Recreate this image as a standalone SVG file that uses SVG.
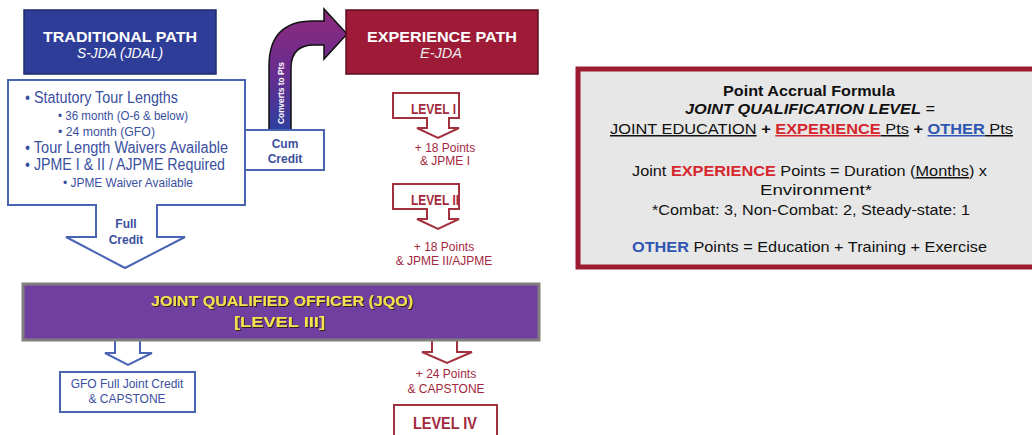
<svg xmlns="http://www.w3.org/2000/svg" width="1032" height="435" viewBox="0 0 1032 435">
<style>
text{font-family:"Liberation Sans",Arial,sans-serif}
.w{fill:#ffffff}
.bl{fill:#3A4FA0}
.rd{fill:#A3283D}
.bs{fill:#ffffff;stroke:#4A64B4;stroke-width:2}
.rs{fill:#ffffff;stroke:#A3313F;stroke-width:2}
.b{font-weight:bold}
.i{font-style:italic}
.m{text-anchor:middle}
.f{fill:#111111;font-size:15px}
</style>
<defs>
<linearGradient id="g" x1="0" y1="0" x2="0" y2="1">
<stop offset="0" stop-color="#8E2A7D"/>
<stop offset="0.55" stop-color="#662D8F"/>
<stop offset="1" stop-color="#2D3F9E"/>
</linearGradient>
<filter id="sh" x="-5%" y="-20%" width="110%" height="140%">
<feDropShadow dx="1" dy="1" stdDeviation="0.4" flood-color="#2a1a10" flood-opacity="0.9"/>
</filter>
</defs>

<g id="connectors">
<path d="M269,130 L269,66 Q269,21 313,21 L324,21 L324,9 L347,34 L324,59 L324,45 L314,45 Q291,45 291,68 L291,130 Z" fill="url(#g)" stroke="#111" stroke-width="1.5"/>
<text class="w b m" font-size="9.5" transform="translate(283.5,93) rotate(-90)" textLength="62" lengthAdjust="spacingAndGlyphs">Converts to Pts</text>
<path class="bs" d="M115,341 V353 H105 L128,365 L152,353 H140 V341"/>
<path class="rs" d="M432,341 V352 H422 L447,363 L472,352 H457 V341"/>
</g>

<g id="traditional-path">
<rect x="24" y="10" width="192" height="64" fill="#2E3D98" stroke="#1D2A6B" stroke-width="1.5"/>
<text class="w b" x="43" y="42" font-size="15" textLength="154" lengthAdjust="spacingAndGlyphs">TRADITIONAL PATH</text>
<text class="w i" x="77" y="58" font-size="14" textLength="86" lengthAdjust="spacingAndGlyphs">S-JDA (JDAL)</text>
</g>

<g id="traditional-details">
<path class="bs" d="M8,80 H245 V205 H157 V237 H185 L125,268 L66,237 H96 V205 H8 Z"/>
<text class="bl" x="25" y="103" font-size="16" textLength="153" lengthAdjust="spacingAndGlyphs">• Statutory Tour Lengths</text>
<text class="bl" x="58" y="120" font-size="12.5" textLength="130" lengthAdjust="spacingAndGlyphs">• 36 month (O-6 &amp; below)</text>
<text class="bl" x="58" y="136" font-size="12.5" textLength="97" lengthAdjust="spacingAndGlyphs">• 24 month (GFO)</text>
<text class="bl" x="25" y="153" font-size="16" textLength="203" lengthAdjust="spacingAndGlyphs">• Tour Length Waivers Available</text>
<text class="bl" x="25" y="170" font-size="16" textLength="200" lengthAdjust="spacingAndGlyphs">• JPME I &amp; II / AJPME Required</text>
<text class="bl" x="63" y="187" font-size="12.5" textLength="130" lengthAdjust="spacingAndGlyphs">• JPME Waiver Available</text>
<text class="bl b m" x="126" y="228" font-size="12">Full</text>
<text class="bl b m" x="126" y="244" font-size="12">Credit</text>
</g>

<g id="cum-credit">
<rect class="bs" x="245" y="130" width="79" height="40"/>
<text class="bl b m" x="285" y="148" font-size="12">Cum</text>
<text class="bl b m" x="285" y="163" font-size="12">Credit</text>
</g>

<g id="experience-path">
<rect x="346" y="10" width="192" height="64" fill="#9E1B38" stroke="#5A0F1F" stroke-width="1.5"/>
<text class="w b" x="367" y="42" font-size="15.5" textLength="150" lengthAdjust="spacingAndGlyphs">EXPERIENCE PATH</text>
<text x="420" y="58" font-size="14" fill="#ECECEC" font-style="italic" textLength="42" lengthAdjust="spacingAndGlyphs">E-JDA</text>
</g>

<g id="level-1">
<path class="rs" d="M393,93 H459 V118 H449 V128 H459 L438,138 L417,128 H427 V118 H393 Z"/>
<text class="rd b" x="411" y="114" font-size="15.5" textLength="45" lengthAdjust="spacingAndGlyphs">LEVEL I</text>
<text class="rd m" x="445" y="152" font-size="12">+ 18 Points</text>
<text class="rd m" x="445" y="165" font-size="12">&amp; JPME I</text>
</g>

<g id="level-2">
<path class="rs" d="M393,184 H459 V209 H449 V219 H459 L438,229 L417,219 H427 V209 H393 Z"/>
<text class="rd b" x="411" y="205" font-size="15.5" textLength="48" lengthAdjust="spacingAndGlyphs">LEVEL II</text>
<text class="rd m" x="444" y="251" font-size="12">+ 18 Points</text>
<text class="rd m" x="444" y="265" font-size="12">&amp; JPME II/AJPME</text>
</g>

<g id="jqo">
<rect x="23" y="284" width="516" height="56" fill="#6F40A0" stroke="#7F7F7F" stroke-width="3"/>
<g filter="url(#sh)" fill="#F5E04E" font-weight="bold">
<text x="151" y="306" font-size="14.5" textLength="262" lengthAdjust="spacingAndGlyphs">JOINT QUALIFIED OFFICER (JQO)</text>
<text x="234" y="327" font-size="14.5" textLength="91" lengthAdjust="spacingAndGlyphs">[LEVEL III]</text>
</g>
</g>

<g id="gfo">
<rect class="bs" x="60" y="372" width="135" height="40"/>
<text class="bl m" x="127" y="388" font-size="12">GFO Full Joint Credit</text>
<text class="bl m" x="127" y="403" font-size="12">&amp; CAPSTONE</text>
</g>

<g id="level-3-to-4">
<text class="rd m" x="446" y="378" font-size="12">+ 24 Points</text>
<text class="rd m" x="446" y="393" font-size="12">&amp; CAPSTONE</text>
</g>

<g id="level-4">
<rect class="rs" x="394" y="405" width="103" height="40"/>
<text class="rd b m" x="445" y="429" font-size="16.5" textLength="64" lengthAdjust="spacingAndGlyphs">LEVEL IV</text>
</g>

<g id="formula">
<rect x="578" y="69" width="470" height="198" fill="#E7E7E7" stroke="#9B1B30" stroke-width="5"/>
<text class="f b" x="723" y="96" font-size="14.5" textLength="172" lengthAdjust="spacingAndGlyphs">Point Accrual Formula</text>
<text class="f" x="685" y="114" textLength="250" lengthAdjust="spacingAndGlyphs"><tspan class="b i">JOINT QUALIFICATION LEVEL</tspan> =</text>
<text class="f" x="610" y="134" textLength="403" lengthAdjust="spacingAndGlyphs"><tspan text-decoration="underline">JOINT EDUCATION</tspan><tspan class="b"> + </tspan><tspan class="b" fill="#D6262E" text-decoration="underline">EXPERIENCE</tspan><tspan text-decoration="underline"> Pts</tspan><tspan class="b"> + </tspan><tspan class="b" fill="#2F56B0" text-decoration="underline">OTHER</tspan><tspan text-decoration="underline"> Pts</tspan></text>
<text class="f" x="632" y="176" textLength="355" lengthAdjust="spacingAndGlyphs">Joint <tspan class="b" fill="#D6262E">EXPERIENCE</tspan> Points = Duration (<tspan text-decoration="underline">Months</tspan>) x</text>
<text class="f" x="760" y="195" textLength="112" lengthAdjust="spacingAndGlyphs">Environment*</text>
<text class="f" x="652" y="215" textLength="318" lengthAdjust="spacingAndGlyphs">*Combat: 3, Non-Combat: 2, Steady-state: 1</text>
<text class="f" x="632" y="252" textLength="355" lengthAdjust="spacingAndGlyphs"><tspan class="b" fill="#2F56B0">OTHER</tspan> Points = Education + Training + Exercise</text>
</g>
</svg>
